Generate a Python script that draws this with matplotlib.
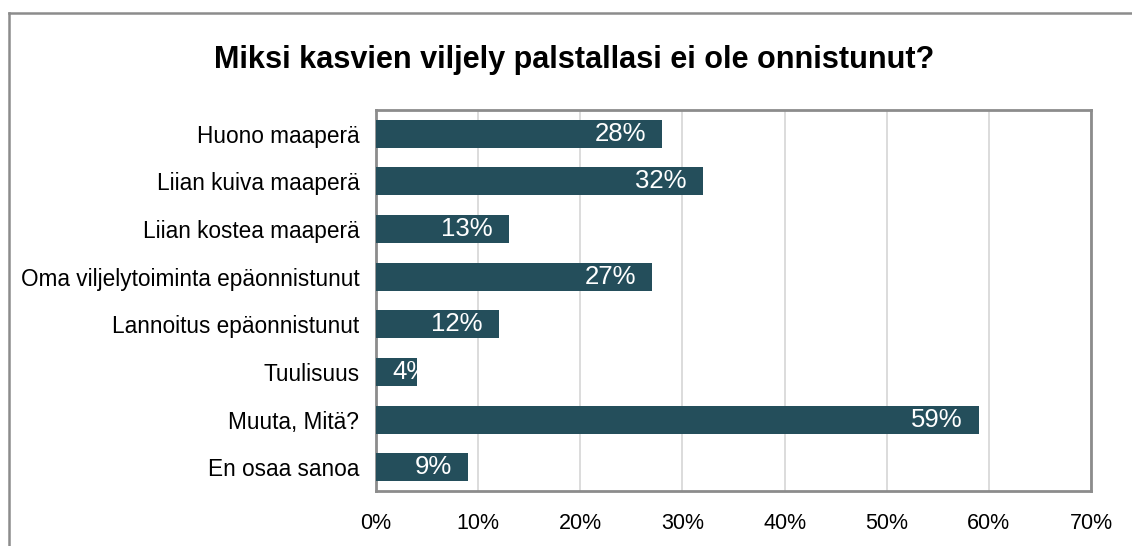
import matplotlib
matplotlib.use("Agg")
import matplotlib.pyplot as plt
from matplotlib.lines import Line2D
from matplotlib.ticker import FuncFormatter

categories = ["Huono maaperä", "Liian kuiva maaperä", "Liian kostea maaperä",
              "Oma viljelytoiminta epäonnistunut", "Lannoitus epäonnistunut",
              "Tuulisuus", "Muuta, Mitä?", "En osaa sanoa"]
values = [28, 32, 13, 27, 12, 4, 59, 9]
xticks = [0, 10, 20, 30, 40, 50, 60, 70]
title = "Miksi kasvien viljely palstallasi ei ole onnistunut?"

plt.rcParams['font.family'] = ['Liberation Sans', 'DejaVu Sans']
W, H = 1132, 546
fig = plt.figure(figsize=(W/100, H/100), dpi=100)
ax = fig.add_axes([376/W, (H-491)/H, (1091-376)/W, (491-110)/H])

bar_color = '#244e5b'
ypos = list(range(len(categories)))
bars = ax.barh(ypos, values, height=0.59, color=bar_color, zorder=3)
ax.set_ylim(len(categories)-0.5, -0.5)
ax.set_xlim(0, 70)
ax.set_xticks(xticks)
ax.xaxis.set_major_formatter(FuncFormatter(lambda v, p: f"{int(v)}%"))
ax.set_yticks(ypos)
ax.set_yticklabels(categories)
ax.tick_params(axis='both', length=0, colors='black')
ax.tick_params(axis='x', pad=16, labelsize=15.5)
ax.tick_params(axis='y', pad=12, labelsize=16.3)
ax.grid(axis='x', color='#d9d9d9', linewidth=1.3, zorder=0)
for s in ax.spines.values():
    s.set_color('#8c8c8c')
    s.set_linewidth(2)

fig.text(574/W, 1-68/H, title, ha='center', va='baseline', fontsize=22.1, fontweight='bold')

# outer frame (left and top edges visible)
fig.add_artist(Line2D([9/W, 9/W], [0, 1-13/H], transform=fig.transFigure, color='#8c8c8c', lw=1.8))
fig.add_artist(Line2D([9/W, 1], [1-13/H, 1-13/H], transform=fig.transFigure, color='#8c8c8c', lw=1.8))

fig.canvas.draw()
renderer = fig.canvas.get_renderer()
px_per_unit = (1091-376)/70
for b, v in zip(bars, values):
    t = ax.text(0, b.get_y()+b.get_height()/2, f"{v}%", color='white', fontsize=18.5,
                va='center', ha='left', zorder=4)
    wpx = t.get_window_extent(renderer).width
    wunits = wpx/px_per_unit
    x = v - 16/px_per_unit - wunits
    x = max(x, 16/px_per_unit)
    t.set_x(x)
    t.set_clip_path(b)

fig.savefig("out.png", dpi=100)
